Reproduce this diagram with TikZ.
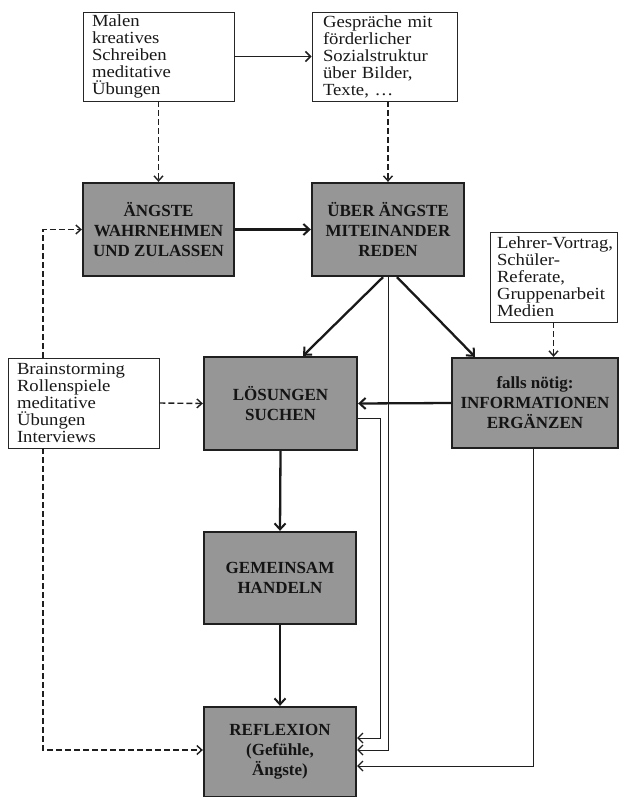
\documentclass[tikz,border=0pt]{standalone}
\usepackage{fontspec}
\setmainfont{Liberation Serif}[FakeStretch=1.1]
\newfontfamily\grayfont{Liberation Serif}
\usetikzlibrary{arrows.meta}
\tikzset{
  wbox/.style={draw=black!85, line width=0.9pt, fill=white, minimum height=89pt,
    inner ysep=0pt, align=left, text=black!90, font=\fontsize{17}{17}\selectfont},
  gbox/.style={draw=black!88, line width=2.3pt, fill=black!41, minimum height=92pt,
    inner sep=2pt, align=center, text=black!92, font=\grayfont\bfseries\fontsize{17}{20}\selectfont},
  thk/.style={line width=2.3pt, draw=black!90, -{Straight Barb[length=6pt,width=11pt,line width=2pt]}},
  mid/.style={line width=1.6pt, draw=black!88, -{Straight Barb[length=5pt,width=10pt,line width=1.5pt]}},
  thn/.style={line width=1pt, draw=black!88, -{Straight Barb[length=5pt,width=10pt,line width=1.2pt]}},
  dsh/.style={line width=1.4pt, draw=black!88, dash pattern=on 6pt off 3pt,
    -{Straight Barb[length=5pt,width=9pt,line width=1.4pt]}}
}
\begin{document}
\begin{tikzpicture}[x=1pt,y=-1pt]
\fill[white] (0,0) rectangle (618,797);
\useasboundingbox (0,0) rectangle (618,797);

% white boxes
\node[wbox, minimum width=151pt, text width=133pt, inner xsep=9pt] (malen) at (158.5,56.5)
  {Malen\\kreatives\\Schreiben\\meditative\\Übungen};
\node[wbox, minimum width=145pt, text width=123pt, inner xsep=11pt] (gespr) at (384.5,56.5)
  {Gespräche mit\\förderlicher\\Sozialstruktur\\über Bilder,\\Texte, \dots};
\node[wbox, minimum width=127pt, text width=113pt, inner xsep=7pt, minimum height=90pt] (lehrer) at (553.5,277)
  {\mbox{Lehrer-Vortrag,}\\Schüler-\\Referate,\\\mbox{Gruppenarbeit}\\Medien};
\node[wbox, minimum width=151pt, text width=133pt, inner xsep=9pt, minimum height=90pt] (brain) at (83.5,403)
  {Brainstorming\\Rollenspiele\\meditative\\Übungen\\Interviews};

% gray boxes
\node[gbox, minimum width=151pt, minimum height=93pt] (aengste) at (158.5,229.5)
  {ÄNGSTE\\WAHRNEHMEN\\UND ZULASSEN};
\node[gbox, minimum width=152pt, minimum height=93pt] (ueber) at (388,229.5)
  {ÜBER ÄNGSTE\\MITEINANDER\\REDEN};
\node[gbox, minimum width=153pt, minimum height=93pt] (loes) at (280.5,403.5)
  {LÖSUNGEN\\SUCHEN};
\node[gbox, minimum width=166pt, minimum height=90pt] (falls) at (535,403)
  {falls nötig:\\INFORMATIONEN\\ERGÄNZEN};
\node[gbox, minimum width=152pt] (gem) at (280,578)
  {GEMEINSAM\\HANDELN};
\node[gbox, minimum width=152pt, minimum height=90pt] (refl) at (280,752)
  {REFLEXION\\(Gefühle,\\Ängste)};

% connectors
\draw[mid] (malen.east) -- (gespr.west);
\draw[dsh] (malen.south) -- (aengste.north);
\draw[dsh] (gespr.south -| ueber.north) -- (ueber.north);
\draw[thk] (aengste.east) -- (ueber.west);
\draw[thk] ([xshift=-5pt]ueber.south) -- ([xshift=22.5pt]loes.north);
\draw[thk] ([xshift=9pt]ueber.south) -- ([xshift=-60pt]falls.north);
\draw[dsh] (lehrer.south) -- (lehrer.south |- falls.north);
\draw[dsh] (brain.east) -- (loes.west);
\draw[thk] (falls.west) -- (loes.east);
\draw[thk] (loes.south) -- (gem.north);
\draw[thk] (gem.south) -- (refl.north);
\draw[thn] ([yshift=-15pt]loes.east) -- ++(22,0) |- ([yshift=14pt]refl.east);
\draw[thn] (ueber.south) |- ([yshift=2pt]refl.east);
\draw[thn] ([xshift=-2pt]falls.south) |- ([yshift=-14pt]refl.east);
\draw[dsh] ([xshift=-40.5pt]brain.north) |- (aengste.west);
\draw[dsh] ([xshift=-40.5pt]brain.south) |- ([yshift=2pt]refl.west);
\end{tikzpicture}
\end{document}
